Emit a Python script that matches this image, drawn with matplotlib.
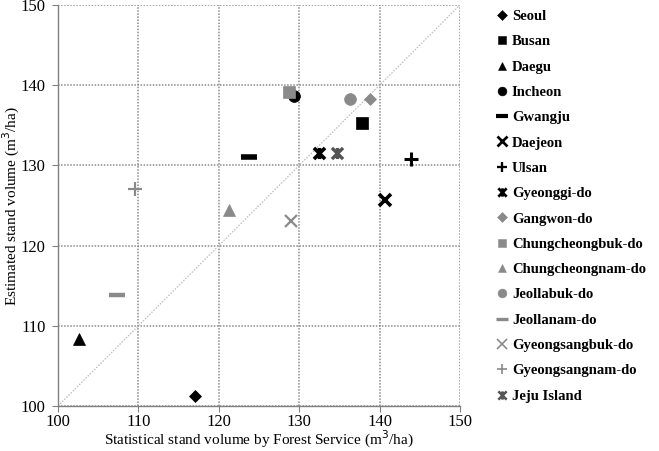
import matplotlib
matplotlib.use("Agg")
import matplotlib.pyplot as plt
from matplotlib.path import Path
from matplotlib.lines import Line2D

regions = ["Seoul", "Busan", "Daegu", "Incheon", "Gwangju", "Daejeon", "Ulsan",
           "Gyeonggi-do", "Gangwon-do", "Chungcheongbuk-do", "Chungcheongnam-do",
           "Jeollabuk-do", "Jeollanam-do", "Gyeongsangbuk-do", "Gyeongsangnam-do",
           "Jeju Island"]
stat_volume = [117.1, 137.8, 102.6, 129.3, 123.7, 140.7, 143.9, 132.5, 138.8,
               128.7, 121.3, 136.3, 107.4, 129.0, 109.6, 134.7]
est_volume = [101.3, 135.3, 108.3, 138.6, 131.1, 125.7, 130.8, 131.5, 138.3,
              139.1, 124.4, 138.3, 113.9, 123.1, 127.0, 131.5]
ticks = [100, 110, 120, 130, 140, 150]

star = Path([(-1, -1), (1, 1), (-1, 1), (1, -1), (0, -1), (0, 1)],
            [Path.MOVETO, Path.LINETO, Path.MOVETO, Path.LINETO, Path.MOVETO, Path.LINETO])

BLK = "black"
GRY = "#8a8a8a"
DGR = "#555555"
# (marker, color, size, edgewidth)
styles = [
    ("D", BLK, 6.5, 0.5),
    ("s", BLK, 8, 0.5),
    ("^", BLK, 8, 0.5),
    ("o", BLK, 8.5, 0.5),
    ("_", BLK, 11, 4),
    ("x", BLK, 9, 2.6),
    ("+", BLK, 10, 2.2),
    (star, BLK, 8, 2.6),
    ("D", GRY, 6.5, 0.5),
    ("s", GRY, 8, 0.5),
    ("^", GRY, 8, 0.5),
    ("o", GRY, 8.5, 0.5),
    ("_", GRY, 11, 3.2),
    ("x", GRY, 9, 1.6),
    ("+", GRY, 10, 1.6),
    (star, DGR, 8, 2.4),
]

plt.rcParams['font.family'] = ['Liberation Serif', 'DejaVu Serif']

fig = plt.figure(figsize=(6.59, 4.51), dpi=100)
ax = fig.add_axes([58 / 659, 1 - 406 / 451, (460 - 58) / 659, (406 - 5) / 451])

ax.plot([100, 150], [100, 150], color="#bdbdbd", lw=0.9,
        linestyle=(0, (1.2, 1.2)), zorder=1)

handles = []
for i, name in enumerate(regions):
    m, c, s, ew = styles[i]
    ax.plot([stat_volume[i]], [est_volume[i]], linestyle="none", marker=m,
            markersize=s, markerfacecolor=c, markeredgecolor=c,
            markeredgewidth=ew, zorder=3, clip_on=False)
    handles.append(Line2D([], [], linestyle="none", marker=m,
                          markersize=s * 0.75, markerfacecolor=c, markeredgecolor=c,
                          markeredgewidth=ew * 0.75, label=name))

ax.set_xlim(100, 150)
ax.set_ylim(100, 150)
ax.set_xticks(ticks)
ax.set_yticks(ticks)
ax.grid(True, color="#8c8c8c", linestyle=(0, (1.0, 1.0)), linewidth=1.1)
ax.set_axisbelow(True)
for side in ["top", "right"]:
    ax.spines[side].set_visible(False)
for side in ["left", "bottom"]:
    ax.spines[side].set_color("#808080")
    ax.spines[side].set_linewidth(1.0)
ax.tick_params(axis="both", direction="out", length=4, color="#808080",
               labelsize=12)
ax.tick_params(axis="y", pad=5)
ax.tick_params(axis="x", pad=2)

fig.text((58 + 460) / 2 / 659, 0.5 / 451,
         "Statistical stand volume by Forest Service (m$^3$/ha)",
         fontsize=11, ha="center", va="bottom")
fig.text(0.5 / 659, 1 - 206 / 451, "Estimated stand volume (m$^3$/ha)",
         fontsize=11, rotation=90, ha="left", va="center")

leg = fig.legend(handles=handles, loc="upper left",
                 bbox_to_anchor=(490 / 659, 1 - 4 / 451),
                 frameon=False, handlelength=0.8, handletextpad=0.3,
                 labelspacing=0.83, borderaxespad=0,
                 prop={"family": "Liberation Serif", "weight": "bold", "size": 10.5})

fig.savefig("out.png", dpi=100)
